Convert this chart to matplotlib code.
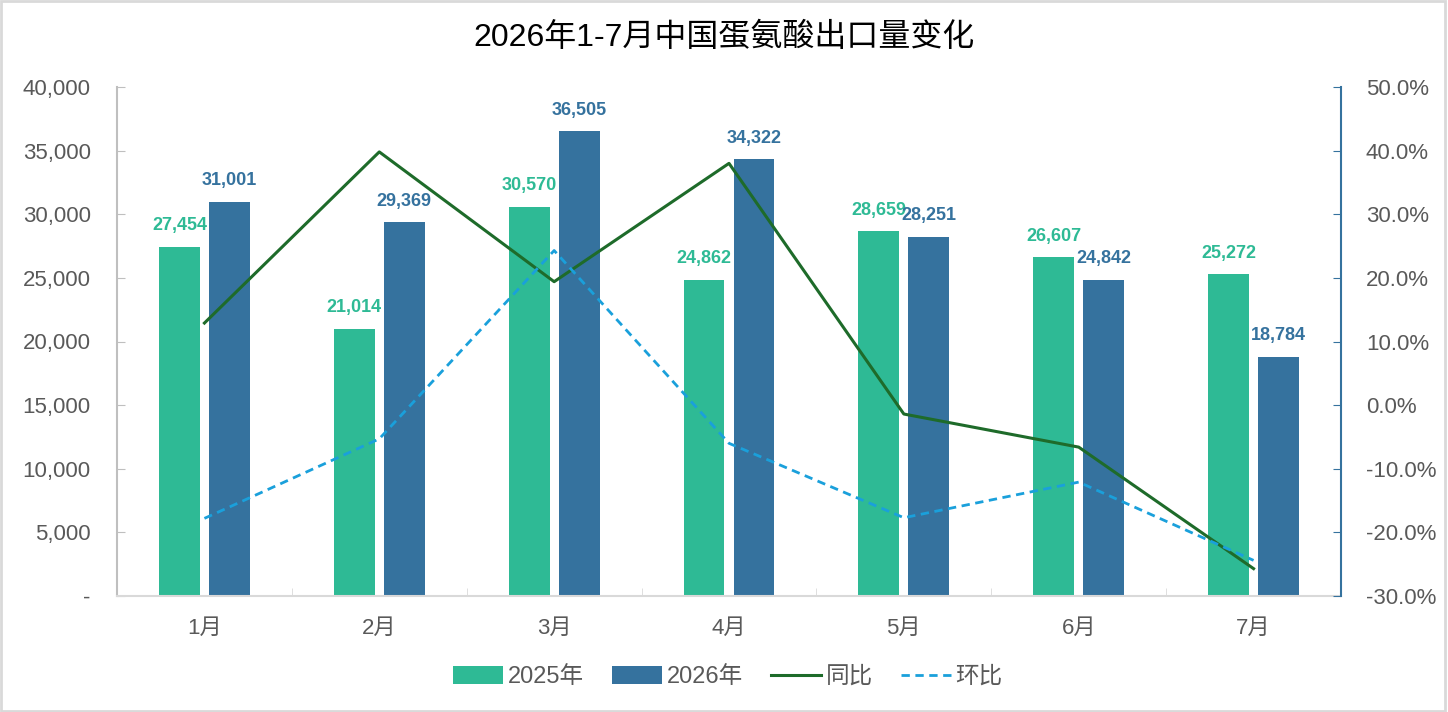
import numpy as np
import matplotlib.pyplot as plt
from matplotlib.ticker import FuncFormatter, FixedLocator
from matplotlib.patches import Rectangle

plt.rcParams['font.family'] = ['Liberation Sans', 'Noto Sans CJK SC', 'DejaVu Sans']

# ── data ──────────────────────────────────────────────────────────────
months = ['1月', '2月', '3月', '4月', '5月', '6月', '7月']
vol_2025 = [27454, 21014, 30570, 24862, 28659, 26607, 25272]
vol_2026 = [31001, 29369, 36505, 34322, 28251, 24842, 18784]
yoy = [12.9, 39.8, 19.4, 38.0, -1.4, -6.6, -25.7]    # 同比 (%)
mom = [-17.8, -5.3, 24.3, -6.0, -17.7, -12.1, -24.4]  # 环比 (%)

c25 = '#2EBA95'
c26 = '#35729E'
c_yoy = '#1E6B2A'
c_mom = '#1AA0DB'
grey = '#595959'

fig = plt.figure(figsize=(14.48, 7.12), dpi=100)
ax = fig.add_axes([117/1448, 1 - 596/712, 1224/1448, 509/712])
ax2 = ax.twinx()

x = np.arange(len(months))
w = 0.234
off = 0.143
b1 = ax.bar(x - off, vol_2025, w, color=c25, label='2025年', zorder=2)
b2 = ax.bar(x + off, vol_2026, w, color=c26, label='2026年', zorder=2)

for xi, v in zip(x, vol_2025):
    ax.text(xi - off, v + 1000, f'{v:,}', ha='center', va='bottom',
            color=c25, fontsize=13, fontweight='bold', zorder=5)
for xi, v in zip(x, vol_2026):
    ax.text(xi + off, v + 1000, f'{v:,}', ha='center', va='bottom',
            color=c26, fontsize=13, fontweight='bold', zorder=5)

l1, = ax2.plot(x, yoy, color=c_yoy, lw=2.2, label='同比')
l2, = ax2.plot(x, mom, color=c_mom, lw=2, ls=(0, (3, 2)), label='环比')

# left axis
ax.set_xlim(-0.5, len(months) - 0.5)
ax.set_ylim(0, 40000)
ax.set_yticks(np.arange(0, 40001, 5000))
ax.yaxis.set_major_formatter(FuncFormatter(lambda v, p: '-' if v == 0 else f'{v:,.0f}'))
ax.tick_params(axis='y', direction='in', length=6, color='#BFBFBF',
               labelsize=16, labelcolor=grey, pad=19)
ax.set_xticks(x)
ax.set_xticklabels(months)
ax.tick_params(axis='x', length=0, labelsize=16, labelcolor=grey, pad=16)
ax.xaxis.set_minor_locator(FixedLocator(np.arange(-0.5, len(months), 1)))
ax.tick_params(axis='x', which='minor', direction='in', length=6, color='#D9D9D9')
for s in ['top', 'right']:
    ax.spines[s].set_visible(False)
ax.spines['left'].set_color('#BFBFBF')
ax.spines['left'].set_linewidth(1.5)
ax.spines['bottom'].set_color('#D9D9D9')
ax.spines['bottom'].set_linewidth(1.5)

# right axis
ax2.set_ylim(-30, 50)
ax2.set_yticks(np.arange(-30, 51, 10))
ax2.yaxis.set_major_formatter(FuncFormatter(lambda v, p: f'{v:.1f}%'))
ax2.tick_params(axis='y', direction='in', length=6, color=c26,
                labelsize=16, labelcolor=grey, pad=18)
for s in ['top', 'left', 'bottom']:
    ax2.spines[s].set_visible(False)
ax2.spines['right'].set_color(c26)
ax2.spines['right'].set_linewidth(1.5)

fig.suptitle('2026年1-7月中国蛋氨酸出口量变化', y=1 - 38/712, va='center',
             fontsize=23, color='black')

fig.legend(handles=[b1, b2, l1, l2], loc='center', bbox_to_anchor=(728/1448, 1 - 677/712),
           ncol=4, frameon=False, fontsize=17, labelcolor=grey,
           handlelength=2.1, handleheight=0.8, handletextpad=0.2, columnspacing=1.2)

fig.patches.append(Rectangle((0.001, 0.002), 0.997, 0.996, transform=fig.transFigure,
                             fill=False, edgecolor='#D9D9D9', lw=2))

fig.savefig('out.png', dpi=100)
